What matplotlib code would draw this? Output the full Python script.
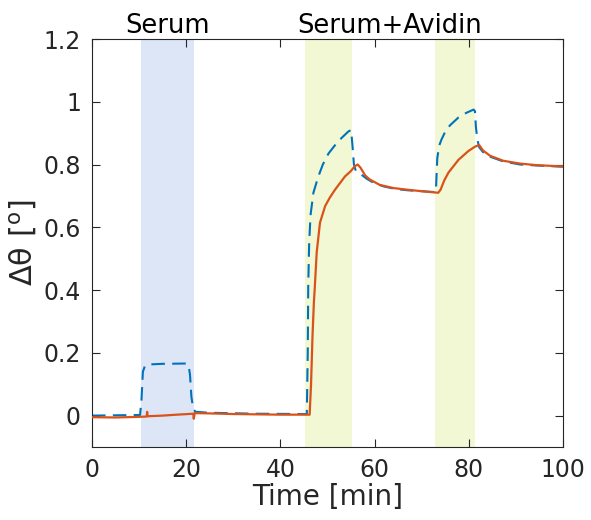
import matplotlib
matplotlib.use("Agg")
import matplotlib.pyplot as plt

# serum injection (dashed, blue)
t_ref = [0, 10.2, 10.5, 10.8, 11.2, 12.0, 15.0, 20.1, 20.5, 20.8, 21.1, 21.5, 22.0, 25.0,
         35.0, 45.6, 45.8, 45.9, 46.1, 46.4, 47.0, 48.0, 49.0, 50.2, 51.5, 53.0, 54.4,
         55.0, 55.3, 55.6, 56.0, 57.0, 58.3, 60.0, 62.0, 64.5, 67.0, 70.0, 73.0, 73.1,
         73.3, 73.7, 74.2, 75.0, 76.0, 77.8, 79.5, 81.0, 81.3, 81.5, 81.8, 82.2, 83.0,
         84.5, 87.3, 90.9, 94.4, 100]
y_ref = [0.0, 0.002, 0.05, 0.14, 0.157, 0.163, 0.165, 0.166, 0.16, 0.13, 0.06, 0.02,
         0.012, 0.009, 0.006, 0.005, 0.2, 0.41, 0.55, 0.64, 0.71, 0.76, 0.80, 0.835, 0.86,
         0.885, 0.905, 0.91, 0.86, 0.80, 0.78, 0.77, 0.755, 0.74, 0.73, 0.722, 0.718, 0.715,
         0.712, 0.75, 0.82, 0.86, 0.88, 0.905, 0.925, 0.95, 0.965, 0.975, 0.97, 0.92, 0.88,
         0.855, 0.84, 0.825, 0.81, 0.80, 0.797, 0.793]

# sensing channel (solid, orange)
t_sig = [0, 5.0, 10.0, 11.6, 11.7, 11.8, 15.0, 18.0, 21.5, 21.6, 21.8, 25.0, 30.0, 35.0,
         40.0, 46.2, 46.5, 46.8, 47.1, 47.3, 47.7, 48.4, 49.5, 50.5, 51.6, 52.6, 53.7, 55.0,
         55.8, 56.4, 57.0, 58.0, 59.0, 61.1, 64.0, 66.8, 70.0, 73.5, 74.0, 74.8, 75.7, 77.8,
         79.9, 81.3, 82.2, 83.0, 84.5, 87.3, 90.9, 94.4, 100]
y_sig = [-0.005, -0.006, -0.004, -0.003, 0.012, -0.002, 0.0, 0.003, 0.006, -0.01, 0.008,
         0.007, 0.005, 0.004, 0.003, 0.003, 0.1, 0.25, 0.36, 0.41, 0.52, 0.615, 0.668,
         0.695, 0.72, 0.74, 0.762, 0.78, 0.795, 0.80, 0.79, 0.765, 0.752, 0.735, 0.725,
         0.72, 0.715, 0.71, 0.72, 0.75, 0.775, 0.815, 0.843, 0.857, 0.862, 0.845, 0.828,
         0.812, 0.803, 0.798, 0.794]

# injection windows
serum_win = (10.5, 21.6)
avidin_wins = [(45.2, 55.1), (72.8, 81.3)]

plt.rcParams['font.family'] = 'DejaVu Sans'
fig = plt.figure(figsize=(5.91, 5.2), dpi=100)
ax = fig.add_axes([0.1557, 0.1404, 0.797, 0.7846])

ax.axvspan(*serum_win, color='#dde6f7', lw=0, zorder=0)
for a, b in avidin_wins:
    ax.axvspan(a, b, color='#f2f7d4', lw=0, zorder=0)

ax.plot(t_ref, y_ref, color='#0072BD', lw=1.5, linestyle=(0, (6.5, 3.5)), zorder=2)
ax.plot(t_sig, y_sig, color='#D95319', lw=1.6, zorder=3)

ax.set_xlim(0, 100)
ax.set_ylim(-0.1, 1.2)
ax.set_xticks([0, 20, 40, 60, 80, 100])
ax.set_yticks([0, 0.2, 0.4, 0.6, 0.8, 1.0, 1.2])
ax.set_yticklabels(['0', '0.2', '0.4', '0.6', '0.8', '1', '1.2'])
ax.tick_params(direction='in', length=6, width=0.8, top=True, right=True,
               labelsize=17, colors='#262626', pad=8)
for s in ax.spines.values():
    s.set_color('#262626')
    s.set_linewidth(0.8)

ax.set_xlabel('Time [min]', fontsize=20, color='#262626', labelpad=1)
ax.set_ylabel('Δθ [$^{\\mathrm{o}}$]', fontsize=22, color='#262626', labelpad=3)

ax.text(sum(serum_win) / 2, 1.219, 'Serum', ha='center', va='baseline', fontsize=18.5)
ax.text((avidin_wins[0][0] + avidin_wins[1][1]) / 2, 1.219, 'Serum+Avidin',
        ha='center', va='baseline', fontsize=18.5)

fig.savefig('out.png', dpi=100)
